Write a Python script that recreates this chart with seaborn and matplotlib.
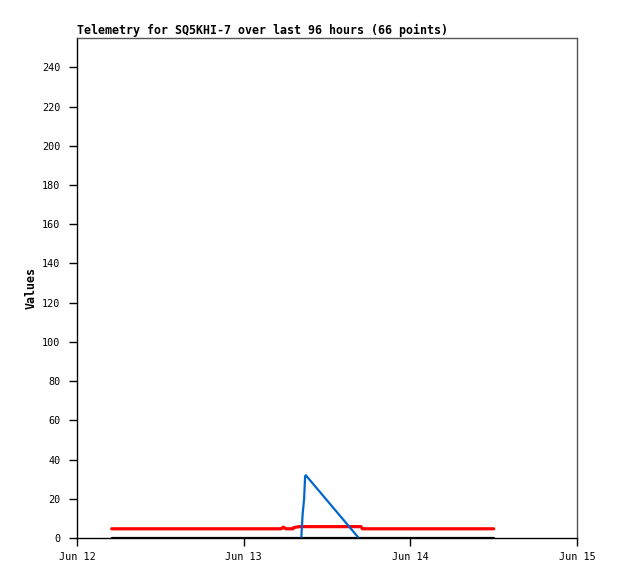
import pandas as pd
import numpy as np
import matplotlib
matplotlib.use('Agg')
import matplotlib.pyplot as plt
import matplotlib.dates as mdates
import seaborn as sns

# --- data (hours after Jun 12 00:00) ---
red_hours = [5.0, 29.4, 29.7, 30.1, 31.1, 31.2, 32.0, 40.9, 41.1, 60.0]
red_values = [4.7, 4.7, 5.5, 4.7, 4.7, 5.3, 5.8, 5.8, 4.7, 4.7]

blue_hours = [32.3, 32.5, 32.7, 32.85, 32.95, 40.5]
blue_values = [0.3, 12.6, 19.7, 31.5, 32.0, 0.3]

black_hours = [5.0, 60.0]
black_values = [0.2, 0.2]

start = pd.Timestamp('2023-06-12')
x_ticks = ['2023-06-12', '2023-06-13', '2023-06-14', '2023-06-15']
y_ticks = [0, 20, 40, 60, 80, 100, 120, 140, 160, 180, 200, 220, 240]

def to_df(hours, values):
    return pd.DataFrame({'time': start + pd.to_timedelta(hours, unit='h'), 'value': values})

red = to_df(red_hours, red_values)
blue = to_df(blue_hours, blue_values)
black = to_df(black_hours, black_values)

sns.set_style('white')
plt.rcParams['font.family'] = ['DejaVu Sans Mono', 'DejaVu Sans']
plt.rcParams['text.color'] = 'black'
plt.rcParams['axes.labelcolor'] = 'black'
plt.rcParams['xtick.color'] = 'black'
plt.rcParams['ytick.color'] = 'black'

fig = plt.figure(figsize=(6.18, 5.79), dpi=100)
ax = fig.add_axes([77 / 618, 41 / 579, 500 / 618, 500 / 579])

sns.lineplot(data=black, x='time', y='value', color='black', linewidth=1.6, ax=ax)
sns.lineplot(data=red, x='time', y='value', color='#ff0000', linewidth=2.3, ax=ax)
sns.lineplot(data=blue, x='time', y='value', color='#0066cc', linewidth=1.6, ax=ax)

ax.set_xlim(pd.Timestamp(x_ticks[0]), pd.Timestamp(x_ticks[-1]))
ax.set_ylim(0, 255)
ax.set_xticks(pd.to_datetime(x_ticks))
ax.xaxis.set_major_formatter(mdates.DateFormatter('%b %d'))
ax.set_yticks(y_ticks)

ax.tick_params(axis='both', direction='out', length=6, width=1, color='black',
               labelcolor='black', labelsize=7.3, bottom=True, left=True)
ax.tick_params(axis='x', pad=4)
ax.tick_params(axis='y', pad=6)

for side in ['left', 'bottom']:
    ax.spines[side].set_color('black')
    ax.spines[side].set_linewidth(1)
for side in ['top', 'right']:
    ax.spines[side].set_color('#555555')
    ax.spines[side].set_linewidth(1)

ax.set_xlabel('')
ax.set_ylabel('Values', fontsize=8.4, fontweight='bold', labelpad=3, color='black')
ax.set_title('Telemetry for SQ5KHI-7 over last 96 hours (66 points)', loc='left',
             fontsize=8.4, fontweight='bold', pad=3, color='black')

fig.savefig('out.png', dpi=100)
